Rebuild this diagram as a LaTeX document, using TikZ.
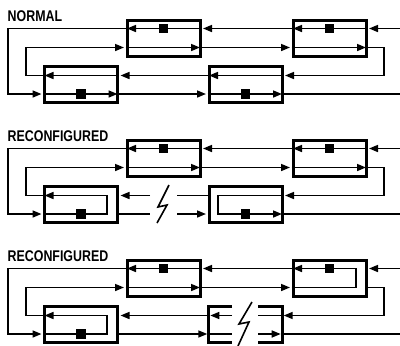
\documentclass[tikz,border=0pt]{standalone}
\usepackage{fontspec}
\usetikzlibrary{arrows.meta,calc}
\newfontfamily\lblfont[FakeStretch=0.8]{Liberation Sans}
\begin{document}
\begin{tikzpicture}[x=1pt,y=-1pt,
  ln/.style={line width=1.6pt},
  arr/.style={ln,-{Triangle[length=9pt,width=7pt]},shorten >=1.5pt},
  box/.style={draw,line width=3pt,minimum width=73pt,minimum height=36pt,inner sep=0pt},
  frame/.style={minimum width=73pt,minimum height=36pt,inner sep=0pt},
  brk/.style={line width=3pt},
  sq/.style={fill,minimum size=9.5pt,inner sep=0pt},
  lbl/.style={anchor=base west,inner sep=0pt,font=\lblfont\bfseries\fontsize{15.5}{17}\selectfont},
  bolt/.style={ln,line join=miter}
]
\useasboundingbox (0,0) rectangle (400,346);

% ---------------- normal operation ----------------
\begin{scope}
\node[lbl] (t1) at (7.5,21) {NORMAL};
\node[box] (A1) at (163.5,38) {};
\node[box] (B1) at (329.5,38) {};
\node[box] (C1) at (81,84.5) {};
\node[box] (D1) at (245.5,84.5) {};
\coordinate (U1) at (0,28.5);
\coordinate (V1) at (0,47.5);
\coordinate (W1) at (0,75.5);
\coordinate (Z1) at (0,94);
\coordinate (in1) at (400,28.5);
\coordinate (out1) at (400,94);
\coordinate (ol1) at (8,94);
\coordinate (rl1) at (26,47.5);
\coordinate (rr1) at (384,75.5);
% outer ring
\draw[arr] (in1) -- (B1.east|-U1);
\draw[arr] (B1.east|-U1) -- (B1.west|-U1);
\draw[arr] (B1.west|-U1) -- (A1.east|-U1);
\draw[arr] (A1.east|-U1) -- (A1.west|-U1);
\draw[arr] (A1.west|-U1) -| (ol1) -- (C1.west|-Z1);
\draw[arr] (C1.west|-Z1) -- (C1.east|-Z1);
\draw[arr] (C1.east|-Z1) -- (D1.west|-Z1);
\draw[arr] (D1.west|-Z1) -- (D1.east|-Z1);
\draw[ln] (D1.east|-Z1) -- (out1);
% inner ring
\draw[arr] (C1.west|-W1) -| (rl1) -- (A1.west|-V1);
\draw[arr] (A1.west|-V1) -- (A1.east|-V1);
\draw[arr] (A1.east|-V1) -- (B1.west|-V1);
\draw[arr] (B1.west|-V1) -- (B1.east|-V1);
\draw[arr] (B1.east|-V1) -| (rr1) -- (D1.east|-W1);
\draw[arr] (D1.east|-W1) -- (D1.west|-W1);
\draw[arr] (D1.west|-W1) -- (C1.east|-W1);
\draw[arr] (C1.east|-W1) -- (C1.west|-W1);
\node[sq] (sA1) at (A1|-U1) {};
\node[sq] (sB1) at (B1|-U1) {};
\node[sq] (sC1) at (C1|-Z1) {};
\node[sq] (sD1) at (D1|-Z1) {};
\end{scope}

% ---------------- break between lower stations ----------------
\begin{scope}[shift={(0,120)}]
\node[lbl] (t2) at (7.5,21) {RECONFIGURED};
\node[box] (A2) at (163.5,38) {};
\node[box] (B2) at (329.5,38) {};
\node[box] (C2) at (81,84.5) {};
\node[box] (D2) at (245.5,84.5) {};
\coordinate (U2) at (0,28.5);
\coordinate (V2) at (0,47.5);
\coordinate (W2) at (0,75.5);
\coordinate (Z2) at (0,94);
\coordinate (in2) at (400,28.5);
\coordinate (out2) at (400,94);
\coordinate (ol2) at (8,94);
\coordinate (rl2) at (26,47.5);
\coordinate (rr2) at (384,75.5);
\coordinate (lc2) at (107,75.5);
\coordinate (ld2) at (218,94);
\coordinate (g2a) at (150,75.5);
\coordinate (g2b) at (150,94);
\coordinate (g2c) at (177,75.5);
\coordinate (g2d) at (177,94);
\draw[arr] (in2) -- (B2.east|-U2);
\draw[arr] (B2.east|-U2) -- (B2.west|-U2);
\draw[arr] (B2.west|-U2) -- (A2.east|-U2);
\draw[arr] (A2.east|-U2) -- (A2.west|-U2);
\draw[arr] (A2.west|-U2) -| (ol2) -- (C2.west|-Z2);
\draw[arr] (C2.west|-Z2) -| (lc2) -- (C2.west|-W2);
\draw[arr] (C2.west|-W2) -| (rl2) -- (A2.west|-V2);
\draw[arr] (A2.west|-V2) -- (A2.east|-V2);
\draw[arr] (A2.east|-V2) -- (B2.west|-V2);
\draw[arr] (B2.west|-V2) -- (B2.east|-V2);
\draw[arr] (B2.east|-V2) -| (rr2) -- (D2.east|-W2);
\draw[arr] (D2.east|-W2) -| (ld2) -- (D2.east|-Z2);
\draw[ln] (D2.east|-Z2) -- (out2);
% severed links
\draw[arr] (g2a) -- (C2.east|-W2);
\draw[ln] (C2.east|-Z2) -- (g2b);
\draw[ln] (D2.west|-W2) -- (g2c);
\draw[arr] (g2d) -- (D2.west|-Z2);
\draw[bolt] (169,65) -- (158,87) -- (167,85) -- (157,103);
\node[sq] (sA2) at (A2|-U2) {};
\node[sq] (sB2) at (B2|-U2) {};
\node[sq] (sC2) at (C2|-Z2) {};
\node[sq] (sD2) at (D2|-Z2) {};
\end{scope}

% ---------------- failed station ----------------
\begin{scope}[shift={(0,240)}]
\node[lbl] (t3) at (7.5,21) {RECONFIGURED};
\node[box] (A3) at (163.5,38) {};
\node[box] (B3) at (329.5,38) {};
\node[box] (C3) at (81,84.5) {};
\node[frame] (D3) at (245.5,84.5) {};
\coordinate (U3) at (0,28.5);
\coordinate (V3) at (0,47.5);
\coordinate (W3) at (0,75.5);
\coordinate (Z3) at (0,94);
\coordinate (in3) at (400,28.5);
\coordinate (out3) at (400,94);
\coordinate (ol3) at (8,94);
\coordinate (rl3) at (26,47.5);
\coordinate (rr3) at (384,75.5);
\coordinate (lb3) at (356,28.5);
\coordinate (lc3) at (107,75.5);
\coordinate (dl3a) at (232,75.5);
\coordinate (dl3b) at (232,94);
\coordinate (dr3a) at (258,75.5);
\coordinate (dr3b) at (258,94);
\draw[brk] (dl3a|-D3.north) -- (D3.north west) -- (D3.south west) -- (dl3a|-D3.south);
\draw[brk] (dr3a|-D3.north) -- (D3.north east) -- (D3.south east) -- (dr3a|-D3.south);
\draw[arr] (in3) -- (B3.east|-U3);
\draw[arr] (B3.west|-V3) -| (lb3) -- (B3.west|-U3);
\draw[arr] (B3.west|-U3) -- (A3.east|-U3);
\draw[arr] (A3.east|-U3) -- (A3.west|-U3);
\draw[arr] (A3.west|-U3) -| (ol3) -- (C3.west|-Z3);
\draw[arr] (C3.west|-Z3) -| (lc3) -- (C3.west|-W3);
\draw[arr] (C3.east|-Z3) -- (D3.west|-Z3);
\draw[ln] (D3.west|-Z3) -- (dl3b);
\draw[arr] (dr3b) -- (D3.east|-Z3);
\draw[ln] (D3.east|-Z3) -- (out3);
\draw[arr] (C3.west|-W3) -| (rl3) -- (A3.west|-V3);
\draw[arr] (A3.west|-V3) -- (A3.east|-V3);
\draw[arr] (A3.east|-V3) -- (B3.west|-V3);
\draw[arr] (B3.east|-V3) -| (rr3) -- (D3.east|-W3);
\draw[ln] (D3.east|-W3) -- (dr3a);
\draw[arr] (dl3a) -- (D3.west|-W3);
\draw[arr] (D3.west|-W3) -- (C3.east|-W3);
\draw[bolt] (252,62) -- (239,84) -- (249,82) -- (238,106);
\node[sq] (sA3) at (A3|-U3) {};
\node[sq] (sB3) at (B3|-U3) {};
\node[sq] (sC3) at (C3|-Z3) {};
\end{scope}
\end{tikzpicture}
\end{document}
